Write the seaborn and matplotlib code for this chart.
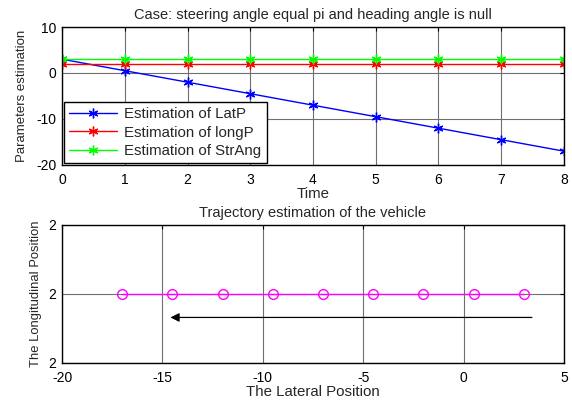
import numpy as np
import matplotlib
matplotlib.use('Agg')
import matplotlib.pyplot as plt
import seaborn as sns
from matplotlib.ticker import FormatStrFormatter
import matplotlib.transforms as mtransforms

# values
time = [0, 1, 2, 3, 4, 5, 6, 7, 8]
lat_p = [3, 0.5, -2, -4.5, -7, -9.5, -12, -14.5, -17]
long_p = [2, 2, 2, 2, 2, 2, 2, 2, 2]
str_ang = [3, 3, 3, 3, 3, 3, 3, 3, 3]
series_labels = ['Estimation of LatP', 'Estimation of longP', 'Estimation of StrAng']
series_colors = ['#0000ff', '#ff0000', '#00ff00']

# arrow in the trajectory plot (start and end on the lateral axis)
arrow_start = 3.4
arrow_end = -14.6

sns.set_style('white')
plt.rcParams['font.family'] = ['Liberation Sans', 'DejaVu Sans']
plt.rcParams['font.size'] = 10
plt.rcParams['axes.unicode_minus'] = False

fig = plt.figure(figsize=(5.72, 4.03), dpi=100)
ax1 = fig.add_axes([0.1084, 0.5906, 0.8776, 0.3424])
ax2 = fig.add_axes([0.1084, 0.0993, 0.8776, 0.3424])

asterisk = (6, 2, 0)

def matlab_axes(ax):
    ax.grid(True, color='#6f6f6f', linewidth=0.8)
    ax.set_axisbelow(True)
    for s in ax.spines.values():
        s.set_color('black')
        s.set_linewidth(1.0)
    ax.tick_params(direction='in', length=3, top=True, right=True,
                   labelsize=10, colors='black', pad=6)

# top plot
for vals, lab, col in zip([lat_p, long_p, str_ang], series_labels, series_colors):
    sns.lineplot(x=time, y=vals, ax=ax1, color=col, marker=asterisk,
                 markersize=7, markeredgecolor=col, markeredgewidth=1.0,
                 linewidth=1.0, label=lab)
ax1.set_xlim(0, 8)
ax1.set_ylim(-20, 10)
ax1.set_xticks(range(0, 9))
ax1.set_yticks([-20, -10, 0, 10])
matlab_axes(ax1)
ax1.tick_params(axis='y', pad=4)
ax1.set_title('Case: steering angle equal pi and heading angle is null', fontsize=10.5, pad=6)
ax1.set_xlabel('Time', fontsize=10.8, labelpad=0)
ax1.set_ylabel('Parameters estimation', fontsize=9.5, labelpad=6)
leg = ax1.legend(loc='lower left', fontsize=10.8, frameon=True, fancybox=False,
                 edgecolor='black', framealpha=1, borderaxespad=0.1,
                 handlelength=3.2, handletextpad=0.5, labelspacing=0.3,
                 borderpad=0.35)
leg.get_frame().set_linewidth(1.0)

# bottom plot: trajectory
sns.lineplot(x=lat_p, y=long_p, ax=ax2, color='#ff00ff', marker='o',
             markersize=7, markerfacecolor='none', markeredgecolor='#ff00ff',
             markeredgewidth=1.0, linewidth=1.0, sort=False)
ax2.set_xlim(-20, 5)
ax2.set_ylim(1.5, 2.5)
ax2.set_xticks([-20, -15, -10, -5, 0, 5])
ax2.set_yticks([1.5, 2, 2.5])
ax2.yaxis.set_major_formatter(FormatStrFormatter('%.0f'))
matlab_axes(ax2)
ax2.tick_params(axis='y', pad=4)
trans = mtransforms.blended_transform_factory(ax2.transData, ax2.transAxes)
ax2.annotate('', xy=(arrow_end, 0.33), xytext=(arrow_start, 0.33),
             xycoords=trans, textcoords=trans,
             arrowprops=dict(arrowstyle='-|>', color='black', lw=0.9,
                             mutation_scale=13, shrinkA=0, shrinkB=0))
ax2.set_title('Trajectory estimation of the vehicle', fontsize=10.5, pad=6)
ax2.set_xlabel('The Lateral Position', fontsize=10.8, labelpad=0)
ax2.set_ylabel('The Longitudinal Position', fontsize=9.4, labelpad=5)

fig.savefig('out.png', dpi=100)
